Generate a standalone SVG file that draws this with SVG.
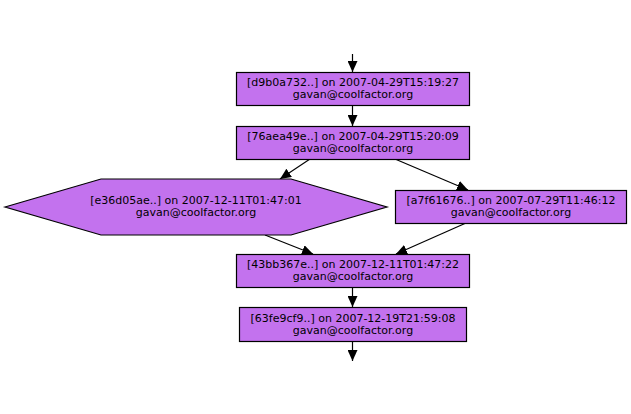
<svg xmlns="http://www.w3.org/2000/svg" width="631" height="414" viewBox="0 0 631 414">
<style>
.n{fill:#c372ee;stroke:#000;stroke-width:1.2}
.t{font-family:"DejaVu Sans",sans-serif;font-size:11px;fill:#000;text-anchor:middle}
.e{stroke:#000;stroke-width:1.2;fill:none;marker-end:url(#a)}
</style>
<defs>
<marker id="a" markerWidth="11" markerHeight="10" refX="11" refY="5" orient="auto" markerUnits="userSpaceOnUse">
<path d="M0,0 L11,5 L0,10 Z" fill="#000"/>
</marker>
</defs>
<rect width="631" height="414" fill="#fff"/>
<g id="edges">
<line class="e" x1="352.5" y1="54" x2="352.5" y2="72"/>
<line class="e" x1="352.5" y1="105" x2="352.5" y2="126"/>
<line class="e" x1="310" y1="159" x2="280" y2="179"/>
<line class="e" x1="395" y1="159" x2="468" y2="190"/>
<line class="e" x1="265" y1="235" x2="313" y2="254"/>
<line class="e" x1="466" y1="223" x2="396" y2="254"/>
<line class="e" x1="352.5" y1="288" x2="352.5" y2="307"/>
<line class="e" x1="352.5" y1="342" x2="352.5" y2="361"/>
</g>
<g id="n1">
<rect class="n" x="236.5" y="72.5" width="233" height="33"/>
<text class="t" x="353" y="86">[d9b0a732..] on 2007-04-29T15:19:27</text>
<text class="t" x="353" y="98">gavan@coolfactor.org</text>
</g>
<g id="n2">
<rect class="n" x="236.5" y="126.5" width="233" height="33"/>
<text class="t" x="353" y="140">[76aea49e..] on 2007-04-29T15:20:09</text>
<text class="t" x="353" y="152">gavan@coolfactor.org</text>
</g>
<g id="n3">
<polygon class="n" points="5,207 101,179 291,179 387,207 291,235 101,235"/>
<text class="t" x="196" y="204">[e36d05ae..] on 2007-12-11T01:47:01</text>
<text class="t" x="196" y="216">gavan@coolfactor.org</text>
</g>
<g id="n4">
<rect class="n" x="395.5" y="190.5" width="231" height="33"/>
<text class="t" x="511" y="204">[a7f61676..] on 2007-07-29T11:46:12</text>
<text class="t" x="511" y="216">gavan@coolfactor.org</text>
</g>
<g id="n5">
<rect class="n" x="236.5" y="254.5" width="233" height="33"/>
<text class="t" x="353" y="268">[43bb367e..] on 2007-12-11T01:47:22</text>
<text class="t" x="353" y="280">gavan@coolfactor.org</text>
</g>
<g id="n6">
<rect class="n" x="239.5" y="307.5" width="227" height="34"/>
<text class="t" x="353" y="321.5">[63fe9cf9..] on 2007-12-19T21:59:08</text>
<text class="t" x="353" y="333.5">gavan@coolfactor.org</text>
</g>
</svg>
